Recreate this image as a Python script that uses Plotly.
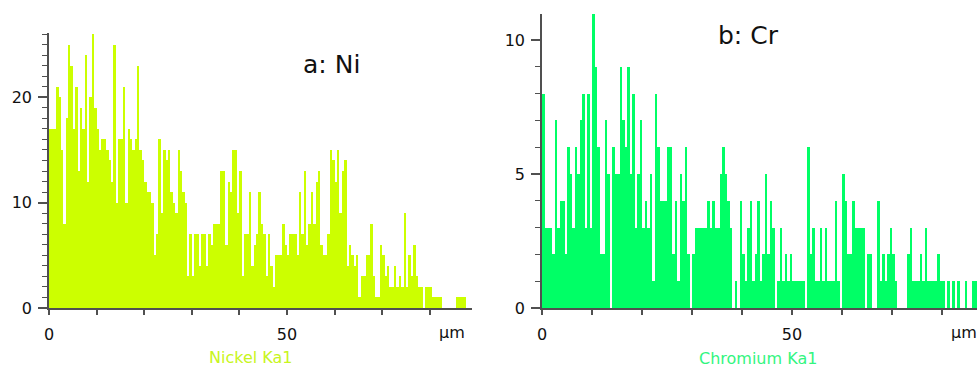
import plotly.graph_objects as go

BIN_UM = 0.5

ni_counts = [
    17, 17, 17, 21, 20, 15, 8, 18, 25, 23, 17, 21, 13, 19, 17, 24, 12, 20, 26, 19,
    17, 15, 16, 16, 15, 14, 12, 25, 10, 16, 16, 21, 10, 17, 16, 15, 16, 23, 15, 14,
    12, 11, 11, 10, 5, 7, 16, 9, 15, 14, 15, 11, 10, 9, 15, 13, 11, 10, 3, 7,
    3, 7, 7, 4, 7, 7, 4, 7, 6, 8, 8, 8, 13, 13, 6, 12, 11, 15, 15, 9,
    13, 3, 7, 7, 11, 4, 6, 7, 11, 8, 7, 3, 7, 4, 2, 5, 5, 5, 8, 6,
    5, 7, 7, 7, 5, 11, 7, 13, 6, 8, 11, 8, 12, 13, 6, 5, 5, 7, 15, 14,
    12, 15, 9, 13, 14, 4, 6, 5, 4, 5, 1, 3, 3, 5, 5, 8, 3, 1, 1, 6,
    5, 3, 4, 2, 2, 4, 2, 3, 2, 9, 2, 5, 3, 6, 3, 2, 2, 0, 2, 2,
    2, 1, 1, 1, 1, 0, 0, 0, 0, 0, 0, 1, 1, 1, 1,
]

cr_counts = [
    8, 3, 3, 3, 2, 7, 3, 4, 4, 2, 6, 5, 3, 6, 5, 7, 8, 3, 8, 3,
    11, 9, 6, 2, 2, 7, 5, 0, 6, 5, 5, 9, 7, 6, 9, 5, 8, 3, 5, 7,
    3, 4, 3, 5, 1, 8, 6, 4, 4, 4, 6, 6, 2, 4, 1, 5, 4, 6, 2, 0,
    2, 3, 3, 3, 3, 3, 4, 3, 4, 3, 3, 5, 6, 5, 4, 3, 0, 1, 0, 4,
    2, 1, 3, 4, 1, 2, 4, 1, 2, 5, 2, 4, 3, 0, 1, 3, 1, 2, 1, 2,
    1, 1, 1, 1, 1, 0, 6, 2, 3, 1, 1, 3, 1, 3, 1, 1, 1, 4, 1, 0,
    5, 4, 2, 2, 4, 3, 3, 3, 3, 0, 2, 2, 0, 0, 4, 1, 2, 1, 2, 3,
    2, 1, 0, 0, 0, 0, 2, 3, 1, 1, 1, 2, 1, 3, 1, 1, 1, 1, 2, 1,
    1, 0, 1, 0, 1, 0, 1, 0, 0, 1, 0, 0, 1, 1,
]

ni_x = [i * BIN_UM + BIN_UM / 2 for i in range(len(ni_counts))]
cr_x = [i * BIN_UM + BIN_UM / 2 for i in range(len(cr_counts))]

x_ticks = [0, 10, 20, 30, 40, 50, 60, 70, 80]
x_ticktext = ["0", "", "", "", "", "50", "", "", ""]

NI_COLOR = "#CCFF00"
CR_COLOR = "#00FF66"
AXIS_COLOR = "#505050"
FONT = "DejaVu Sans"

W, H = 977, 369

def px(v):
    return v / W

def py(v):
    return 1 - v / H

fig = go.Figure()
fig.add_trace(go.Bar(x=ni_x, y=ni_counts, width=BIN_UM, marker=dict(color=NI_COLOR, line=dict(width=0)),
                     xaxis="x", yaxis="y", showlegend=False))
fig.add_trace(go.Bar(x=cr_x, y=cr_counts, width=BIN_UM, marker=dict(color=CR_COLOR, line=dict(width=0)),
                     xaxis="x2", yaxis="y2", showlegend=False))

common_x = dict(
    showgrid=False, zeroline=False, showline=True, linecolor=AXIS_COLOR, linewidth=1.5,
    ticks="outside", ticklen=5, tickwidth=1.5, tickcolor=AXIS_COLOR,
    tickvals=x_ticks, ticktext=x_ticktext, ticklabelstandoff=6, automargin=False,
    tickfont=dict(family=FONT, size=16, color="#111"),
)
common_y = dict(
    showgrid=False, zeroline=False, showline=True, linecolor=AXIS_COLOR, linewidth=1.5,
    ticks="outside", ticklen=9, tickwidth=1.5, tickcolor=AXIS_COLOR, ticklabelstandoff=3,
    automargin=False,
    tickfont=dict(family=FONT, size=16, color="#111"),
    minor=dict(dtick=1, ticks="outside", ticklen=5, tickwidth=1, tickcolor=AXIS_COLOR),
)

fig.update_layout(
    width=W, height=H, margin=dict(l=0, r=0, t=0, b=0, pad=0),
    paper_bgcolor="white", plot_bgcolor="white", bargap=0,
    xaxis=dict(domain=[px(49), px(472)], range=[0, (472 - 49) / 4.76], anchor="y", **common_x),
    yaxis=dict(domain=[py(308), py(33)], range=[0, 26.1], anchor="x", tick0=0, dtick=10, **common_y),
    xaxis2=dict(domain=[px(542), 1.0], range=[0, 87], anchor="y2", **common_x),
    yaxis2=dict(domain=[py(308), py(14)], range=[0, 10.97], anchor="x2", tick0=0, dtick=5, **common_y),
)

annots = [
    dict(text="a: Ni", x=px(331), y=py(65), font=dict(family=FONT, size=25, color="#111"), xanchor="center"),
    dict(text="b: Cr", x=px(748), y=py(36), font=dict(family=FONT, size=25, color="#111"), xanchor="center"),
    dict(text="Nickel Ka1", x=px(250), y=py(357), font=dict(family=FONT, size=16, color="#C8F520"), xanchor="center"),
    dict(text="Chromium Ka1", x=px(758), y=py(358), font=dict(family=FONT, size=16, color="#33F57F"), xanchor="center"),
    dict(text="µm", x=px(452), y=py(332), font=dict(family=FONT, size=16, color="#111"), xanchor="center"),
    dict(text="µm", x=px(950), y=py(332), font=dict(family=FONT, size=16, color="#111"), xanchor="left"),
]
for a in annots:
    fig.add_annotation(xref="paper", yref="paper", showarrow=False, yanchor="middle", borderpad=0, **a)

fig.write_html("out.html")
